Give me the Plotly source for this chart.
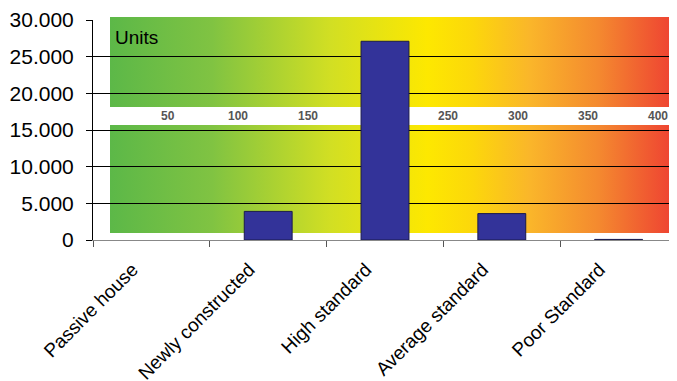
import base64
import plotly.graph_objects as go

categories = ["Passive house", "Newly constructed", "High standard", "Average standard", "Poor Standard"]
units = [0, 3900, 27100, 3600, 80]
y_ticks = [0, 5000, 10000, 15000, 20000, 25000, 30000]
strip_labels = [50, 100, 150, 250, 300, 350, 400]

# gradient background (SVG data URI), drawn beneath grid lines
stops = [(0.0, "#5cb848"), (0.18, "#80c342"), (0.39, "#d2df23"), (0.56, "#fde800"),
         (0.64, "#fcd70b"), (0.74, "#fab62a"), (0.86, "#f48a2f"), (1.0, "#ee3e32")]
stop_xml = "".join(f'<stop offset="{o}" stop-color="{c}"/>' for o, c in stops)
svg = (
    '<svg xmlns="http://www.w3.org/2000/svg" width="567" height="216" viewBox="0 0 567 216" preserveAspectRatio="none">'
    f'<defs><linearGradient id="g" x1="0" y1="0" x2="1" y2="0">{stop_xml}</linearGradient></defs>'
    '<rect x="0" y="0" width="567" height="216" fill="url(#g)"/>'
    '<rect x="0" y="90" width="567" height="18" fill="#ffffff"/>'
    '</svg>'
)
src = "data:image/svg+xml;base64," + base64.b64encode(svg.encode()).decode()

fig = go.Figure()
fig.add_trace(go.Bar(
    x=categories, y=units, width=0.41,
    marker=dict(color="#333399", line=dict(color="#1a1a4d", width=[0 if u == 0 else 1 for u in units])),
    showlegend=False,
))
# invisible trace on x2 to give the strip scale
fig.add_trace(go.Scatter(x=[0, 400], y=[None, None], xaxis="x2", showlegend=False, hoverinfo="skip"))

fig.add_layout_image(dict(
    source=src, xref="paper", yref="paper",
    x=17 / 584, y=(240 - 17) / 220, sizex=567 / 584, sizey=216 / 220,
    xanchor="left", yanchor="top", sizing="stretch", layer="below",
))

for v in strip_labels:
    fig.add_annotation(x=v, y=(240 - 116) / 220, xref="x2", yref="paper", text=f"<b>{v}</b>",
                       showarrow=False, font=dict(family="Liberation Sans", size=12, color="#555555"),
                       xanchor="center", yanchor="middle")

fig.add_annotation(x=20 / 584, y=(240 - 38) / 220, xref="paper", yref="paper", text="Units",
                   showarrow=False, font=dict(family="Liberation Sans", size=19, color="#000000"),
                   xanchor="left", yanchor="middle")

# page body has an 8px margin: shrink the figure so the plot area lands where the reference has it
fig.update_layout(
    width=669, height=373,
    margin=dict(l=85, r=0, t=12, b=141, autoexpand=False),
    paper_bgcolor="white", plot_bgcolor="rgba(0,0,0,0)",
    separators=",.",
    font=dict(family="Liberation Sans", color="#000000"),
    xaxis=dict(
        type="category", range=[-0.5, 4.5], tickangle=-45, automargin=False,
        showgrid=False, showline=True, linecolor="#888888", linewidth=1,
        ticks="outside", ticklen=6, tickcolor="#555555", tickson="boundaries",
        tickfont=dict(size=19, family="Liberation Sans", color="#000000"),
        ticklabelshift=-19, ticklabelstandoff=10,
    ),
    xaxis2=dict(overlaying="x", range=[(93 - 98) / 1.4, (677 - 98) / 1.4], visible=False),
    yaxis=dict(
        range=[0, 30000], tickvals=y_ticks, tickformat=",d", automargin=False,
        showgrid=True, gridcolor="#000000", gridwidth=1,
        showline=True, linecolor="#000000", linewidth=1,
        ticks="outside", ticklen=6, tickcolor="#000000",
        tickfont=dict(size=21, family="Liberation Sans", color="#000000"),
        zeroline=False, ticklabelstandoff=8,
    ),
)

fig.write_html("out.html")
